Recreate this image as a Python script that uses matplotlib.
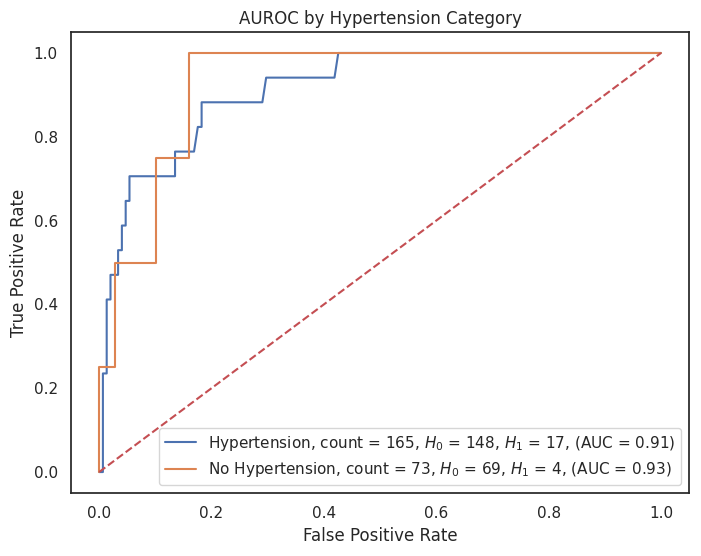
import matplotlib
matplotlib.use('Agg')
import matplotlib.pyplot as plt
import seaborn as sns
import numpy as np

sns.set_theme(style='white')

# ROC points for Hypertension group (H0 = 148 negatives, H1 = 17 positives)
fpr_ht = np.array([0, 1, 1, 2, 2, 3, 3, 5, 5, 6, 6, 7, 7, 8, 8, 20, 20, 25, 26, 27, 27, 43, 44, 62, 63, 148]) / 148
tpr_ht = np.array([0, 0, 4, 4, 7, 7, 8, 8, 9, 9, 10, 10, 11, 11, 12, 12, 13, 13, 14, 14, 15, 15, 16, 16, 17, 17]) / 17

# ROC points for No Hypertension group (H0 = 69 negatives, H1 = 4 positives)
fpr_noht = np.array([0, 0, 2, 2, 7, 7, 11, 11, 69]) / 69
tpr_noht = np.array([0, 1, 1, 2, 2, 3, 3, 4, 4]) / 4

labels = [
    'Hypertension, count = 165, $H_0$ = 148, $H_1$ = 17, (AUC = 0.91)',
    'No Hypertension, count = 73, $H_0$ = 69, $H_1$ = 4, (AUC = 0.93)',
]

fig = plt.figure(figsize=(7.01, 5.56), dpi=100)
ax = fig.add_axes([0.1013, 0.1133, 0.8817, 0.8291])

ax.plot(fpr_ht, tpr_ht, color='#4C72B0', label=labels[0])
ax.plot(fpr_noht, tpr_noht, color='#DD8452', label=labels[1])
ax.plot([0, 1], [0, 1], '--', color='#C44E52')

ax.set_xlabel('False Positive Rate')
ax.set_ylabel('True Positive Rate')
ax.set_title('AUROC by Hypertension Category')
ax.legend(loc='lower right')

fig.savefig('out.png', dpi=100)
